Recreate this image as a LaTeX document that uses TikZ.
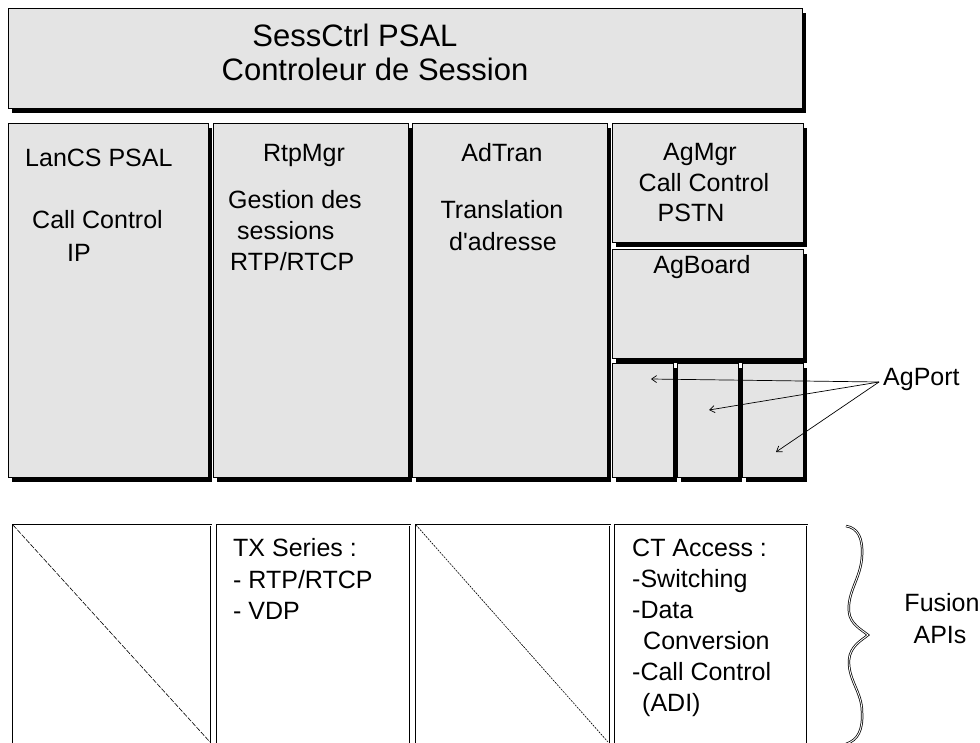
\documentclass[tikz,border=0pt]{standalone}
\usepackage{fontspec}
\setmainfont{Liberation Sans}
\usetikzlibrary{shadows,arrows.meta}
\definecolor{boxgray}{HTML}{E4E4E4}
\tikzset{
  gbox/.style={draw=black, line width=0.8pt, fill=boxgray, inner sep=0pt, outer sep=0pt, anchor=north west,
    drop shadow={shadow xshift=3.5pt, shadow yshift=-5pt, opacity=1, fill=black}},
  wbox/.style={fill=white, inner sep=0pt, outer sep=0pt, anchor=north west},
  dblline/.style={draw=black, line width=2.6pt, postaction={draw=white, line width=1.0pt}},
  txt/.style={font=\fontsize{25}{30}\selectfont, inner sep=0pt, text height=0.72em, text depth=0pt},
  bigtxt/.style={font=\fontsize{31}{36}\selectfont, inner sep=0pt, text height=0.72em, text depth=0pt},
  diag/.style={line width=0.6pt, dash pattern=on 5pt off 1.5pt},
  ptr/.style={line width=0.7pt, -{Straight Barb[length=5pt,width=7pt]}},
  bracestyle/.style={draw=black, line width=2.4pt, postaction={draw=white, line width=0.9pt}}
}
\begin{document}
\begin{tikzpicture}[x=1pt, y=-1pt]
\useasboundingbox (0,0) rectangle (980,742);
% upper gray boxes
\node[gbox, minimum width=794pt, minimum height=100pt] (top) at (8,8) {};
\node[gbox, minimum width=200pt, minimum height=354pt] (lan) at (8,123) {};
\node[gbox, minimum width=195pt, minimum height=354pt] (rtp) at (213,123) {};
\node[gbox, minimum width=195pt, minimum height=354pt] (adt) at (412,123) {};
\node[gbox, minimum width=191pt, minimum height=119pt] (agm) at (612,123) {};
\node[gbox, minimum width=191pt, minimum height=109pt] (agb) at (612,249) {};
\node[gbox, minimum width=61pt, minimum height=114pt] (pa) at (612,363) {};
\node[gbox, minimum width=61pt, minimum height=114pt] (pb) at (677,363) {};
\node[gbox, minimum width=61pt, minimum height=114pt] (pc) at (742,363) {};
% texts
\node[bigtxt] (t1) at (355,43) {SessCtrl PSAL};
\node[bigtxt] (t2) at (375,77) {Controleur de Session};
\node[txt, anchor=west] (l1) at (25,163) {LanCS PSAL};
\node[txt, anchor=west] (l2) at (32,225) {Call Control};
\node[txt, anchor=west] (l3) at (67,258) {IP};
\node[txt] (r1) at (304,158) {RtpMgr};
\node[txt, anchor=west] (r2) at (228,205) {Gestion des};
\node[txt, anchor=west] (r3) at (237,236) {sessions};
\node[txt, anchor=west] (r4) at (230,267) {RTP/RTCP};
\node[txt] (a1) at (502,158) {AdTran};
\node[txt] (a2) at (502,215) {Translation};
\node[txt] (a3) at (503,247) {d\textquotesingle adresse};
\node[txt] (m1) at (700,157) {AgMgr};
\node[txt] (m2) at (704,188) {Call Control};
\node[txt] (m3) at (691,218) {PSTN};
\node[txt] (b1) at (702,270) {AgBoard};
\node[txt, anchor=west, inner xsep=4pt] (ap) at (879,382) {AgPort};
% arrows to ports
\coordinate (tipa) at (651,379);
\coordinate (tipb) at (709,410);
\coordinate (tipc) at (776,452);
\draw[ptr] (ap.west) -- (tipa);
\draw[ptr] (ap.west) -- (tipb);
\draw[ptr] (ap.west) -- (tipc);
% lower white boxes
\begin{scope}
\clip (0,0) rectangle (980,742);
\node[wbox, minimum width=198pt, minimum height=240pt] (w1) at (13,525) {};
\node[wbox, minimum width=193pt, minimum height=240pt] (w2) at (217,525) {};
\node[wbox, minimum width=194pt, minimum height=240pt] (w3) at (416,525) {};
\node[wbox, minimum width=192pt, minimum height=240pt] (w4) at (615,525) {};
\draw[dblline] (w1.north west) rectangle (w1.south east);
\draw[dblline] (w2.north west) rectangle (w2.south east);
\draw[dblline] (w3.north west) rectangle (w3.south east);
\draw[dblline] (w4.north west) rectangle (w4.south east);
\coordinate (d1e) at (210,742);
\coordinate (d3e) at (608,742);
\draw[diag] (w1.north west) -- (d1e);
\draw[diag, dash pattern=on 2pt off 1pt] (w3.north west) -- (d3e);
% brace
\coordinate (bt) at (846,526);
\coordinate (bm) at (868,635);
\coordinate (bb) at (846,744);
\draw[bracestyle] (bt) .. controls (858,528) and (863,538) .. (862,556)
  .. controls (861,578) and (847,592) .. (849,612)
  .. controls (850,624) and (862,630) .. (bm)
  .. controls (862,640) and (850,646) .. (849,660)
  .. controls (848,680) and (862,692) .. (862,712)
  .. controls (863,730) and (858,740) .. (bb);
\end{scope}
\node[txt, anchor=west] (x1) at (233,553) {TX Series :};
\node[txt, anchor=west] (x2) at (233,585) {- RTP/RTCP};
\node[txt, anchor=west] (x3) at (233,616) {- VDP};
\node[txt, anchor=west] (c1) at (632,553) {CT Access :};
\node[txt, anchor=west] (c2) at (632,584) {-Switching};
\node[txt, anchor=west] (c3) at (632,615) {-Data};
\node[txt, anchor=west] (c4) at (643,646) {Conversion};
\node[txt, anchor=west] (c5) at (632,677) {-Call Control};
\node[txt, anchor=west] (c6) at (642,708) {(ADI)};
\node[txt] (f1) at (942,608) {Fusion};
\node[txt] (f2) at (940,640) {APIs};
\end{tikzpicture}
\end{document}
